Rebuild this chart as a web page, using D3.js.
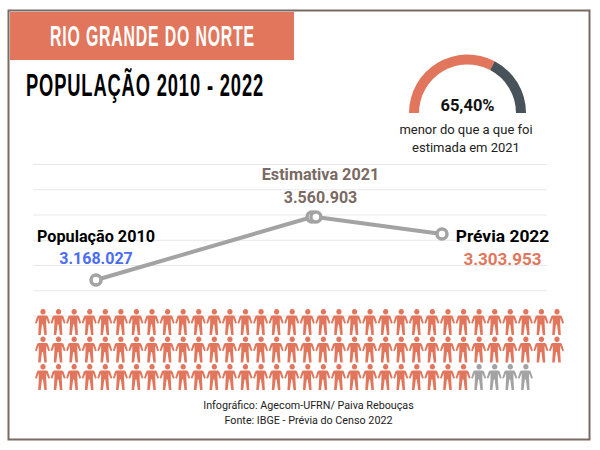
<!DOCTYPE html>
<html>
<head>
    <title>Rio Grande do Norte - População 2010 - 2022</title>
    <script src="https://d3js.org/d3.v7.min.js"></script>
    <style>
      html, body { margin: 0; padding: 0; background: #fff; }
      svg { display: block; }
      text { font-family: Roboto, sans-serif; }
      .narrow { font-family: "Liberation Sans Narrow", sans-serif; font-weight: 700; letter-spacing: 1.5px; }
    </style>
</head>
<body>
  <svg id="chart" width="600" height="450"></svg>
  <script>
    // values
    var years = [2010, 2021, 2021.03, 2022];
    var population = [3168027, 3560903, 3560903, 3303953];
    var pointLabels = ["População 2010", "Estimativa 2021", "Prévia 2022"];
    var valueLabels = ["3.168.027", "3.560.903", "3.303.953"];
    var gaugePercent = [65.40, 34.60];
    var gaugeText = "65,40%";
    var captionLines = ["menor do que a que foi", "estimada em 2021"];
    var sourceLines = ["Infográfico: Agecom-UFRN/ Paiva Rebouças", "Fonte: IBGE - Prévia do Censo 2022"];
    var peoplePerRow = [34, 34, 32];
    var greyPeople = 4;
    var gridSteps = d3.range(7);

    var orange = "#e2765c", slate = "#48525a", grey = "#a3a3a3", brown = "#7a6a64";

    const svg = d3.select("#chart");

    // frame
    svg.append("rect").attr("x", 8.5).attr("y", 10.5).attr("width", 581).attr("height", 429)
        .attr("fill", "#fff").attr("stroke", brown).attr("stroke-width", 2);

    // banner
    svg.append("rect").attr("x", 10).attr("y", 12).attr("width", 284).attr("height", 48).attr("fill", orange);
    svg.append("text").attr("class", "narrow").attr("x", 50).attr("y", 46)
        .attr("font-size", 29).attr("fill", "#fff")
        .attr("textLength", 205).attr("lengthAdjust", "spacingAndGlyphs")
        .text("RIO GRANDE DO NORTE");
    svg.append("text").attr("class", "narrow").attr("x", 26).attr("y", 96)
        .attr("font-size", 32).attr("fill", "#000")
        .attr("textLength", 238).attr("lengthAdjust", "spacingAndGlyphs")
        .text("POPULAÇÃO 2010 - 2022");

    // gauge
    const gauge = svg.append("g").attr("transform", "translate(467.5,113)");
    const pie = d3.pie().sort(null).startAngle(-Math.PI / 2).endAngle(Math.PI / 2);
    const arc = d3.arc().innerRadius(48.5).outerRadius(58.5);
    gauge.selectAll("path").data(pie(gaugePercent)).enter().append("path")
        .attr("d", arc)
        .attr("fill", (d, i) => i === 0 ? orange : slate);
    gauge.append("text").attr("y", -2).attr("text-anchor", "middle")
        .attr("font-size", 16.5).attr("font-weight", 700).attr("fill", "#111").text(gaugeText);
    svg.selectAll(".caption").data(captionLines).enter().append("text")
        .attr("class", "caption").attr("x", 466).attr("y", (d, i) => 134 + i * 18)
        .attr("text-anchor", "middle").attr("font-size", 13).attr("fill", "#222").text(d => d);

    // grid
    const gridY = d3.scaleLinear().domain([0, 6]).range([164.5, 316]);
    svg.selectAll(".grid").data(gridSteps).enter().append("line")
        .attr("class", "grid")
        .attr("x1", 33).attr("x2", 547)
        .attr("y1", d => gridY(d)).attr("y2", d => gridY(d))
        .attr("stroke", "#e8e8e8").attr("stroke-width", 1);

    // the picture's axes are not even, so both scales are piecewise
    const x = d3.scaleLinear().domain([2010, 2021, 2022]).range([96, 312, 442]);
    const y = d3.scaleLinear().domain([3168027, 3303953, 3560903]).range([280, 234, 217]);

    const line = d3.line().x((d, i) => x(years[i])).y(d => y(d));
    svg.append("path").datum(population).attr("d", line)
        .attr("fill", "none").attr("stroke", grey).attr("stroke-width", 4);
    svg.selectAll(".dot").data(population).enter().append("circle")
        .attr("class", "dot")
        .attr("cx", (d, i) => x(years[i])).attr("cy", d => y(d)).attr("r", 5)
        .attr("fill", "#fff").attr("stroke", grey).attr("stroke-width", 3.5);

    // labels
    var labelX = [96, 320.5, 502.5];
    var labelY = [242, 180, 242];
    var nameSizes = [16.2, 16.2, 17.4];
    var valueSizes = [16, 16, 17];
    var valueGaps = [22, 23, 23];
    var valueColors = ["#4a6cf7", brown, orange];
    var nameColors = ["#000", brown, "#000"];
    pointLabels.forEach(function(name, i) {
        svg.append("text").attr("x", labelX[i]).attr("y", labelY[i]).attr("text-anchor", "middle")
            .attr("font-size", nameSizes[i]).attr("font-weight", 700).attr("fill", nameColors[i]).text(name);
        svg.append("text").attr("x", labelX[i]).attr("y", labelY[i] + valueGaps[i]).attr("text-anchor", "middle")
            .attr("font-size", valueSizes[i]).attr("font-weight", 700).attr("fill", valueColors[i]).text(valueLabels[i]);
    });

    // people
    const peopleX = d3.scaleLinear().domain([0, 33]).range([43, 557]);
    const peopleY = d3.scaleLinear().domain([0, 2]).range([314.5, 369.5]);
    const personPath = "M0,0 a2.7,2.7 0 1,1 0.01,0 Z M-3,1 h6 q1.5,0 2,1.3 l2,6.2 l-1.6,0.7 l-2.2,-5.4 v5.5 l0.6,11.2 h-2.5 l-1.3,-10.5 h-1 l-1.3,10.5 h-2.5 l0.6,-11.2 v-5.5 l-2.2,5.4 l-1.6,-0.7 l2,-6.2 q0.5,-1.3 2,-1.3 Z";
    peoplePerRow.forEach(function(count, row) {
        svg.selectAll(".person" + row).data(d3.range(count)).enter().append("path")
            .attr("class", "person" + row)
            .attr("d", personPath)
            .attr("transform", d => "translate(" + peopleX(d) + "," + peopleY(row) + ")")
            .attr("fill", d => (row === 2 && d >= count - greyPeople) ? grey : orange);
    });

    // source
    svg.selectAll(".source").data(sourceLines).enter().append("text")
        .attr("class", "source").attr("x", 308.5).attr("y", (d, i) => 409 + i * 15)
        .attr("text-anchor", "middle").attr("font-size", 10.75).attr("fill", "#222").text(d => d);
  </script>
</body>
</html>
